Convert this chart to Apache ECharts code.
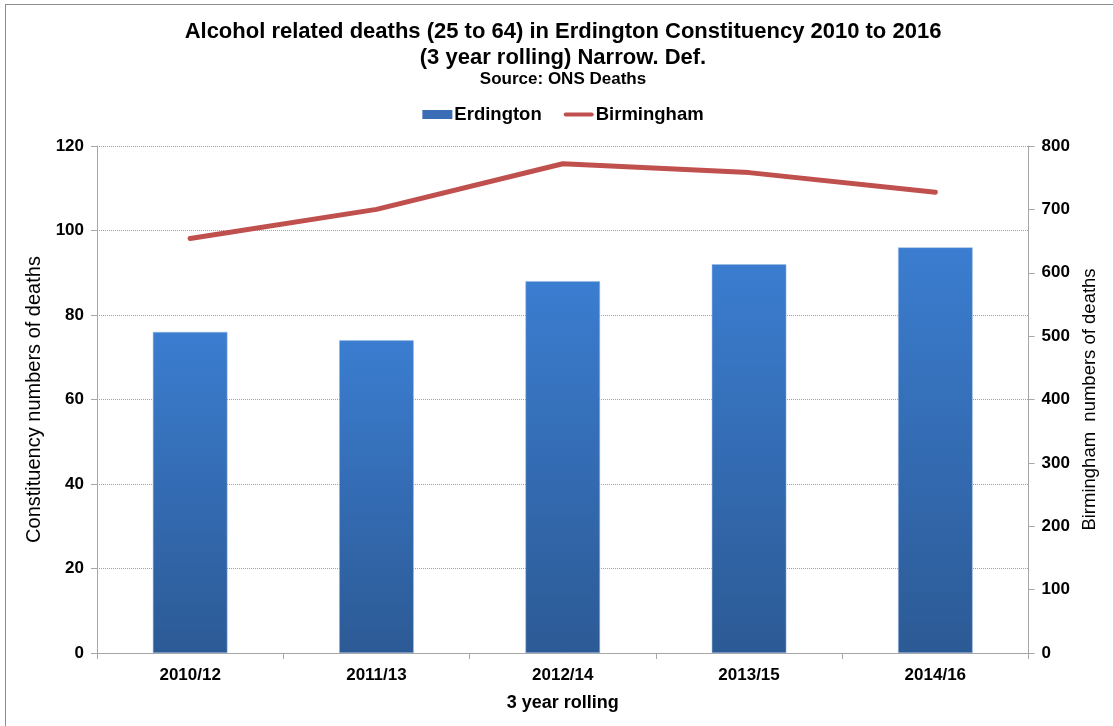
<!DOCTYPE html>
<html><head><meta charset="utf-8">
<script src="https://cdn.jsdelivr.net/npm/echarts@6/dist/echarts.min.js"></script>
<style>
html,body{margin:0;padding:0;background:#fff;overflow:hidden;width:1113px;height:726px;}
#frame{position:absolute;left:5px;top:4px;width:1140px;height:760px;border:1px solid #8c8c8c;box-sizing:border-box;}
#c{position:absolute;left:0;top:0;width:1126px;height:726px;}
</style></head>
<body>
<div id="frame"></div>
<div id="c"></div>
<script>
const categories = ['2010/12','2011/13','2012/14','2013/15','2014/16'];
const erdington = [76, 74, 88, 92, 96];
const birmingham = [654, 700, 772, 758, 727];
const leftTicks = {min: 0, max: 120, interval: 20};
const rightTicks = {min: 0, max: 800, interval: 100};

const chart = echarts.init(document.getElementById('c'), null, {renderer:'canvas'});
const font = 'Arial, "Liberation Sans", sans-serif';
const grey = '#a6a6a6';
chart.setOption({
  backgroundColor: 'transparent',
  animation: false,
  title: [
    {text: 'Alcohol related deaths (25 to 64) in Erdington Constituency 2010 to 2016\n(3 year rolling) Narrow. Def.', left: 'center', top: 14,
     textStyle: {fontFamily: font, fontWeight: 'bold', fontSize: 22, lineHeight: 26, color: '#000'}},
    {text: 'Source: ONS Deaths', left: 'center', top: 65,
     textStyle: {fontFamily: font, fontWeight: 'bold', fontSize: 17, lineHeight: 18, color: '#000'}}
  ],
  legend: {
    top: 100, left: 'center', itemGap: 22, itemWidth: 30, itemHeight: 9,
    textStyle: {fontFamily: font, fontWeight: 'bold', fontSize: 18.5, color: '#000', padding:[0,0,0,-3]},
    data: [
      {name: 'Erdington', icon: 'rect', itemStyle: {color: '#3a6db5', borderWidth: 0}},
      {name: 'Birmingham', icon: 'path://M2,2 L28,2 A2,2 0 0 1 28,6 L2,6 A2,2 0 0 1 2,2 Z', itemStyle:{color:'#c0504d', borderWidth: 0}}
    ]
  },
  grid: {left: 97, right: 97.5, top: 146, bottom: 73, containLabel: false},
  xAxis: {
    type: 'category', data: categories,
    name: '3 year rolling', nameLocation: 'middle', nameGap: 41,
    nameTextStyle: {fontFamily: font, fontWeight: 'bold', fontSize: 18, color: '#000'},
    axisLine: {lineStyle: {color: grey}},
    axisTick: {show: true, alignWithLabel: false, length: 6, lineStyle: {color: grey}},
    axisLabel: {fontFamily: font, fontWeight: 'bold', fontSize: 17, color: '#000', margin: 14}
  },
  yAxis: [
    {type: 'value', min: leftTicks.min, max: leftTicks.max, interval: leftTicks.interval,
     name: 'Constituency numbers of deaths', nameLocation: 'middle', nameGap: 43, nameRotate: 90,
     nameTextStyle: {fontFamily: font, fontSize: 20, color: '#000'},
     axisLine: {show: true, lineStyle: {color: grey}},
     axisTick: {show: true, length: 6, lineStyle: {color: grey}},
     axisLabel: {fontFamily: font, fontWeight: 'bold', fontSize: 17, color: '#000', margin: 13},
     splitLine: {show: true, lineStyle: {color: '#a0a0a0', type: [1,1], width: 1}}
    },
    {type: 'value', min: rightTicks.min, max: rightTicks.max, interval: rightTicks.interval, position: 'right',
     name: 'Birmingham  numbers of deaths', nameLocation: 'middle', nameGap: 39, nameRotate: 90,
     nameTextStyle: {fontFamily: font, fontSize: 18.5, color: '#000'},
     axisLine: {show: true, lineStyle: {color: grey}},
     axisTick: {show: true, length: 6, lineStyle: {color: grey}},
     axisLabel: {fontFamily: font, fontWeight: 'bold', fontSize: 17, color: '#000', margin: 13},
     splitLine: {show: false}
    }
  ],
  series: [
    {name: 'Erdington', type: 'bar', data: erdington, barWidth: '40%', yAxisIndex: 0,
     itemStyle: {color: new echarts.graphic.LinearGradient(0,0,0,1,[
       {offset:0,color:'#3b7dd0'},{offset:1,color:'#2c5a95'}]),
       borderColor: '#9bb8e0', borderWidth: 0.5}
    },
    {name: 'Birmingham', type: 'line', data: birmingham, yAxisIndex: 1,
     showSymbol: false, symbol: 'none', color: '#c0504d',
     lineStyle: {color: '#c0504d', width: 5, cap: 'round', join: 'round'}
    }
  ]
});
</script>
</body></html>
